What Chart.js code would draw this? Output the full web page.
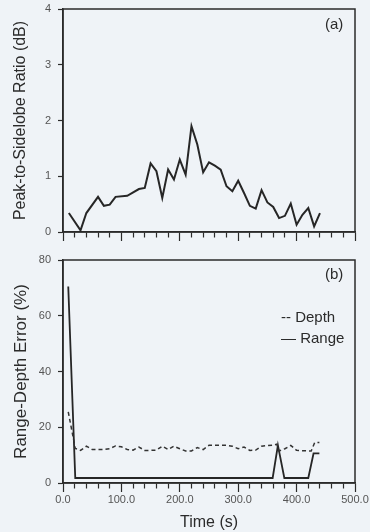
<!DOCTYPE html>
<html>
<head>
<meta charset="utf-8">
<script src="https://cdn.jsdelivr.net/npm/chart.js@4"></script>
<style>
body { margin: 0; background: #eff3f7; }
#wrap { position: relative; width: 370px; height: 532px; font-family: "Liberation Sans", Arial, sans-serif; color: #2b2b2b; }
canvas { position: absolute; left: 0; }
.note { position: absolute; font-size: 15px; line-height: 16px; white-space: nowrap; }
</style>
</head>
<body>
<div id="wrap">
  <canvas id="psrChart" width="370" height="250" style="top:0"></canvas>
  <canvas id="errChart" width="370" height="282" style="top:250px"></canvas>
  <div class="note" style="left:325px; top:16px">(a)</div>
  <div class="note" style="left:325px; top:266px">(b)</div>
  <div class="note" style="left:281px; top:309px">-- Depth</div>
  <div class="note" style="left:281px; top:330px">— Range</div>
</div>
<script>
// (a) peak-to-sidelobe ratio, dB
const psrTime = [10, 30, 40, 60, 70, 80, 90, 110, 130, 140, 150, 160, 170, 180, 190, 200, 210, 220, 230, 240,
                 250, 260, 270, 280, 290, 300, 310, 320, 330, 340, 350, 360, 370, 380, 390, 400, 410, 420, 430, 440];
const psrValues = [0.34, 0.03, 0.34, 0.63, 0.47, 0.49, 0.63, 0.65, 0.77, 0.79, 1.23, 1.09, 0.61, 1.12, 0.94, 1.30, 1.03, 1.90, 1.57, 1.07,
                   1.25, 1.19, 1.12, 0.82, 0.73, 0.92, 0.70, 0.47, 0.42, 0.75, 0.53, 0.45, 0.25, 0.29, 0.51, 0.13, 0.31, 0.43, 0.10, 0.34];

// (b) range-depth error, %
const depthTime = [9, 21, 30, 40, 50, 60, 70, 80, 90, 100, 110, 120, 130, 140, 150, 160, 170, 180, 190, 200, 210, 220, 230,
                   240, 250, 260, 270, 280, 290, 300, 310, 320, 330, 340, 350, 360, 366, 370, 380, 390, 400, 410, 420, 425, 431, 439];
const depthValues = [25.5, 12.4, 11.7, 13.2, 12.0, 12.0, 12.0, 12.3, 13.3, 13.0, 12.0, 11.8, 12.9, 11.7, 11.7, 11.8, 13.2, 12.0, 13.2, 12.3, 11.5, 11.5, 12.7,
                     12.0, 13.5, 13.5, 13.5, 13.5, 13.2, 12.3, 12.9, 11.7, 11.8, 13.2, 13.4, 13.6, 13.9, 11.5, 12.3, 13.5, 11.7, 11.6, 11.5, 11.5, 14.5, 14.5];
const rangeTime = [9, 21, 359, 368, 379, 420, 429, 439];
const rangeValues = [70.5, 1.8, 1.8, 13.5, 1.8, 1.8, 10.6, 10.6];

const timeMax = 500;
const timeStep = 20;
const timeLabelEvery = 100;

const ink = '#2b2b2b';
const font = 'Liberation Sans';

function toPoints(xs, ys) {
    return xs.map((x, i) => ({ x: x, y: ys[i] }));
}

// box round the plot area
const frame = {
    id: 'frame',
    beforeDatasetsDraw(chart) {
        const { ctx, chartArea: a } = chart;
        ctx.save();
        ctx.strokeStyle = ink;
        ctx.lineWidth = 1.5;
        ctx.strokeRect(a.left, a.top, a.right - a.left, a.bottom - a.top);
        ctx.restore();
    }
};

function timeAxis(showLabels, height) {
    return {
        type: 'linear',
        min: 0,
        max: timeMax,
        border: { display: true, color: ink, width: 1.5 },
        grid: {
            drawOnChartArea: false,
            tickLength: 9,
            tickColor: ink,
            tickWidth: 1.2,
            tickBorderDash: c => (c.tick && c.tick.value % timeLabelEvery === 0) ? [] : [5, 30]
        },
        ticks: {
            stepSize: timeStep,
            autoSkip: false,
            maxRotation: 0,
            padding: 1,
            color: '#555',
            font: { family: font, size: 11 },
            callback: v => (showLabels && v % timeLabelEvery === 0) ? v.toFixed(1) : ''
        },
        title: {
            display: showLabels,
            text: 'Time (s)',
            color: ink,
            font: { family: font, size: 16 },
            padding: { top: 0, bottom: 0 }
        },
        afterFit: s => { s.height = height; s.paddingLeft = 0; s.paddingRight = 0; }
    };
}

function valueAxis(max, step, titleText, titleSize) {
    return {
        min: 0,
        max: max,
        border: { display: true, color: ink, width: 1.5 },
        grid: { drawOnChartArea: false, tickLength: 5, tickColor: ink, tickWidth: 1.2 },
        ticks: {
            stepSize: step,
            padding: 7,
            color: '#555',
            font: { family: font, size: 11 }
        },
        title: {
            display: true,
            text: titleText,
            color: ink,
            font: { family: font, size: titleSize },
            padding: { top: 11, bottom: 0 }
        },
        afterFit: s => { s.width = 63; s.paddingTop = 0; s.paddingBottom = 0; }
    };
}

const common = {
    responsive: false,
    animation: false,
    events: [],
    plugins: { legend: { display: false }, tooltip: { enabled: false } }
};

new Chart(document.getElementById('psrChart'), {
    type: 'line',
    data: {
        datasets: [{
            data: toPoints(psrTime, psrValues),
            borderColor: '#262626',
            borderWidth: 2,
            pointRadius: 0,
            tension: 0
        }]
    },
    options: Object.assign({}, common, {
        layout: { padding: { top: 9, right: 15, bottom: 0, left: 0 } },
        scales: {
            x: timeAxis(false, 18),
            y: valueAxis(4, 1, 'Peak-to-Sidelobe Ratio (dB)', 16)
        }
    }),
    plugins: [frame]
});

new Chart(document.getElementById('errChart'), {
    type: 'line',
    data: {
        datasets: [
            {
                label: 'Depth',
                data: toPoints(depthTime, depthValues),
                borderColor: '#333',
                borderWidth: 1.5,
                borderDash: [4, 3],
                pointRadius: 0,
                tension: 0
            },
            {
                label: 'Range',
                data: toPoints(rangeTime, rangeValues),
                borderColor: '#262626',
                borderWidth: 1.8,
                pointRadius: 0,
                tension: 0
            }
        ]
    },
    options: Object.assign({}, common, {
        layout: { padding: { top: 10, right: 15, bottom: 0, left: 0 } },
        scales: {
            x: timeAxis(true, 49),
            y: valueAxis(80, 20, 'Range-Depth Error (%)', 17)
        }
    }),
    plugins: [frame]
});
</script>
</body>
</html>
